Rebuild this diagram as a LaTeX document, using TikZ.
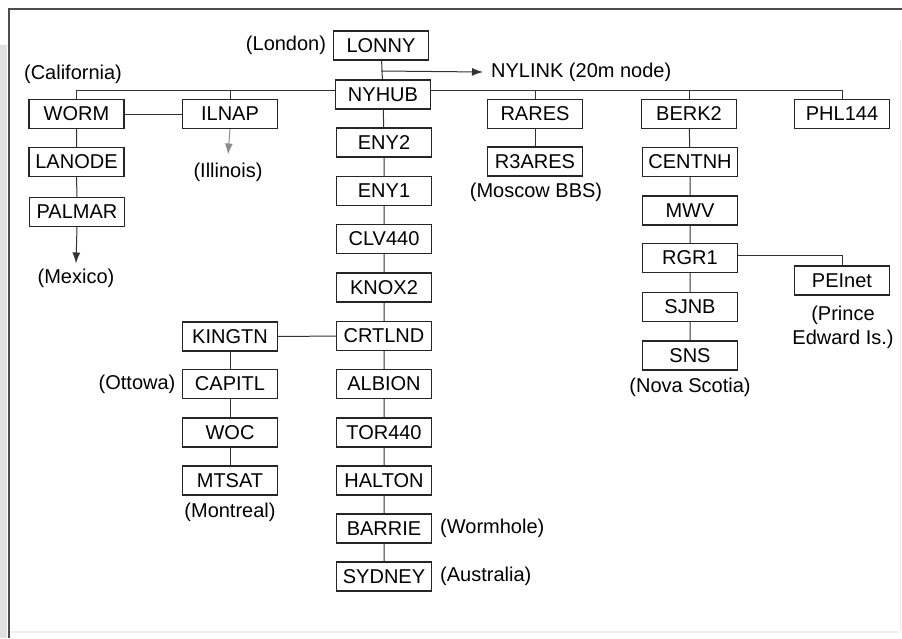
\documentclass[tikz,border=0pt]{standalone}
\usepackage{fontspec}
\setmainfont{Liberation Sans}
\usetikzlibrary{arrows.meta}
\begin{document}
\begin{tikzpicture}[x=1pt,y=-1pt,
  box/.style={draw=black!85,line width=1.1pt,minimum width=95pt,minimum height=29pt,inner sep=0pt,font=\fontsize{20}{22}\selectfont},
  lbl/.style={inner sep=0pt,font=\fontsize{20}{22}\selectfont},
  conn/.style={draw=black!80,line width=1pt},
  arr/.style={conn,-{Latex[length=11pt,width=8pt]}}]
\useasboundingbox (0,0) rectangle (902,638);
% frame
\fill[black!12] (0,45) rectangle (7,638);
\draw[black!70,line width=2pt] (9,638) -- (9,9) -- (902,9);
\draw[black!8,line width=1pt] (900,40) -- (900,630);
\draw[black!6,line width=1.5pt] (10,632) -- (900,632);
% central column
\node[box] (lonny) at (381,45.5) {LONNY};
\node[lbl] (london) at (286,45.5) {(London)};
\node[box] (nyhub) at (383,94.5) {NYHUB};
\node[box] (eny2) at (384,142.5) {ENY2};
\node[box] (eny1) at (384,191) {ENY1};
\node[box] (clv) at (384,239) {CLV440};
\node[box] (knox) at (384,287.5) {KNOX2};
\node[box] (crt) at (384,336) {CRTLND};
\node[box] (alb) at (384,384) {ALBION};
\node[box] (tor) at (384,432.5) {TOR440};
\node[box] (hal) at (384,480.5) {HALTON};
\node[box] (bar) at (384,528.5) {BARRIE};
\node[box] (syd) at (384,576.5) {SYDNEY};
\node[lbl,anchor=west] (worm-h) at (440,528.5) {(Wormhole)};
\node[lbl,anchor=west] (austr) at (440,576.5) {(Australia)};
\node[lbl,anchor=west] (nylink) at (491,72) {NYLINK (20m node)};
% left
\node[lbl] (calif) at (73,74) {(California)};
\node[box] (worm) at (76.5,114) {WORM};
\node[box] (ilnap) at (230,114) {ILNAP};
\node[lbl] (illinois) at (228,172) {(Illinois)};
\node[box] (lanode) at (76.5,162) {LANODE};
\node[box] (palmar) at (77,212) {PALMAR};
\node[lbl] (mexico) at (76,278) {(Mexico)};
\node[box] (king) at (230,336.5) {KINGTN};
\node[box] (cap) at (230,384) {CAPITL};
\node[lbl] (ottowa) at (137,384) {(Ottowa)};
\node[box] (woc) at (230,432.5) {WOC};
\node[box] (mtsat) at (230,480.5) {MTSAT};
\node[lbl] (montreal) at (230,512) {(Montreal)};
% right
\node[box] (rares) at (535,114) {RARES};
\node[box] (r3) at (535,161.5) {R3ARES};
\node[lbl] (moscow) at (536,192) {(Moscow BBS)};
\node[box] (berk) at (689,114) {BERK2};
\node[box] (cent) at (690,162) {CENTNH};
\node[box] (mwv) at (690,210.5) {MWV};
\node[box] (rgr) at (690,258) {RGR1};
\node[box] (sjnb) at (690,307) {SJNB};
\node[box] (sns) at (690,355.5) {SNS};
\node[lbl] (nova) at (690,387) {(Nova Scotia)};
\node[box] (phl) at (842,114) {PHL144};
\node[box] (pei) at (842,280.5) {PEInet};
\node[lbl,align=center,font=\fontsize{20}{24}\selectfont] (prince) at (843,327) {(Prince\\Edward Is.)};
% connectors
\coordinate (j1) at (381,71);
\draw[conn] (lonny) -- (nyhub);
\draw[arr] (j1) -- ([xshift=-8pt]nylink.west);
\draw[conn] ([yshift=4.5pt]nyhub.west) -| (worm.north);
\draw[conn] (ilnap.north) -- ++(0,-9);
\draw[conn] ([yshift=4.5pt]nyhub.east) -| (phl.north);
\draw[conn] (rares.north) -- ++(0,-9);
\draw[conn] (berk.north) -- ++(0,-9);
\draw[conn] (nyhub) -- (eny2) -- (eny1) -- (clv) -- (knox) -- (crt) -- (alb) -- (tor) -- (hal) -- (bar) -- (syd);
\draw[conn] (worm) -- (ilnap);
\draw[conn] (worm) -- (lanode) -- (palmar);
\draw[arr] (palmar.south) -- ([yshift=5pt]mexico.north);
\draw[conn,draw=black!45,-{Latex[length=11pt,width=8pt]}] (ilnap.south) -- ([yshift=8pt]illinois.north);
\draw[conn] (crt) -- (king);
\draw[conn] (king) -- (cap) -- (woc) -- (mtsat);
\draw[conn] (rares) -- (r3);
\draw[conn] (berk) -- (cent) -- (mwv) -- (rgr) -- (sjnb) -- (sns);
\draw[conn] ([yshift=3pt]rgr.east) -| (pei.north);
\end{tikzpicture}
\end{document}
